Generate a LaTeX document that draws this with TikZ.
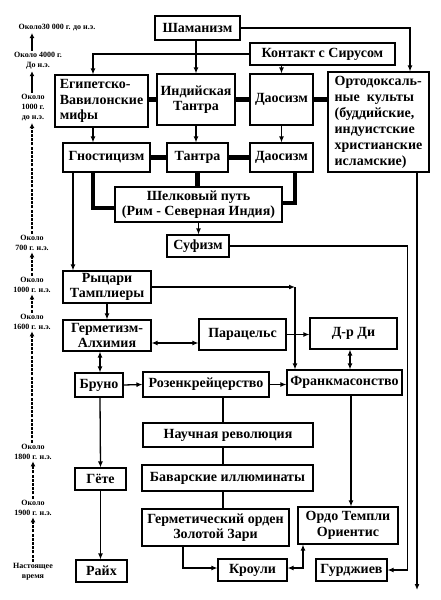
\documentclass[tikz,border=0pt]{standalone}
\usepackage{fontspec}
\setmainfont{Liberation Serif}
\usetikzlibrary{arrows.meta}

\begin{document}
\begin{tikzpicture}[x=1pt,y=-1pt,
  box/.style={draw,line width=1.1pt,fill=white,inner sep=1pt,align=center,
    font=\bfseries\fontsize{14}{15.5}\selectfont},
  era/.style={inner sep=0.5pt,align=center,font=\bfseries\fontsize{8}{10}\selectfont},
  link/.style={line width=1.3pt,-{Latex[length=6pt,width=5pt]}},
  both/.style={line width=1.3pt,{Latex[length=6pt,width=5pt]}-{Latex[length=6pt,width=5pt]}},
  tie/.style={line width=1.3pt},
  road/.style={line width=4.5pt},
  ago/.style={line width=1.5pt,shorten <=1pt,shorten >=1pt,-{Latex[length=5pt,width=5pt]}},
  gap/.style={dash pattern=on 3pt off 1.2pt}
]
\useasboundingbox (0,0) rectangle (441,600);

% Ancient roots
\node[box,minimum width=85pt,minimum height=24pt] (sham) at (197.5,28) {Шаманизм};
\node[box,minimum width=145pt,minimum height=22pt] (sirius) at (322.5,54) {Контакт с Сирусом};
\node[box,align=left,minimum width=93pt,minimum height=52pt] (egypt) at (101.5,101) {Египетско-\\Вавилонские\\мифы};
\node[box,minimum width=78pt,minimum height=51pt] (itantra) at (196,99.5) {Индийская\\Тантра};
\node[box,minimum width=63pt,minimum height=51pt] (taoA) at (281.5,99.5) {Даосизм};
\node[box,align=left,minimum width=101pt,minimum height=100pt,
  font=\bfseries\fontsize{14}{16}\selectfont] (ortho) at (378.5,122)
  {Ортодоксаль-\\ные\ \ культы\\(буддийские,\\индуистские\\христианские\\исламские)};

% Second row and the Silk Road
\node[box,minimum width=87pt,minimum height=29pt] (gnost) at (106.5,157.5) {Гностицизм};
\node[box,minimum width=61pt,minimum height=29pt] (tantra) at (197.5,157.5) {Тантра};
\node[box,minimum width=63pt,minimum height=29pt] (taoB) at (281.5,157.5) {Даосизм};
\node[box,minimum width=167pt,minimum height=35pt] (silk) at (198.5,204.5) {Шелковый путь\\(Рим - Северная Индия)};
\node[box,minimum width=62pt,minimum height=22pt] (sufi) at (198,246) {Суфизм};

% Medieval and Renaissance
\node[box,minimum width=88pt,minimum height=32pt] (templar) at (107,287) {Рыцари\\Тамплиеры};
\node[box,minimum width=88pt,minimum height=31pt] (herm) at (107,335.5) {Герметизм-\\Алхимия};
\node[box,minimum width=87pt,minimum height=31pt] (para) at (242.5,334.5) {Парацельс};
\node[box,minimum width=87pt,minimum height=31pt] (dee) at (353.5,333.5) {Д-р Ди};
\node[box,minimum width=48pt,minimum height=24pt] (bruno) at (99,385) {Бруно};
\node[box,minimum width=126pt,minimum height=25pt] (rosen) at (206,384.5) {Розенкрейцерство};
\node[box,minimum width=115pt,minimum height=25pt] (mason) at (344.5,382.5) {Франкмасонство};

% Modern times
\node[box,minimum width=170pt,minimum height=24pt] (sci) at (228,435) {Научная революция};
\node[box,minimum width=171pt,minimum height=26pt] (bavar) at (227.5,478) {Баварские иллюминаты};
\node[box,minimum width=147pt,minimum height=37pt] (golden) at (215.5,527.5) {Герметический орден\\Золотой Зари};
\node[box,minimum width=100pt,minimum height=37pt] (oto) at (348,525.5) {Ордо Темпли\\Ориентис};
\node[box,minimum width=69pt,minimum height=22pt] (crowley) at (252.5,570) {Кроули};
\node[box,minimum width=71pt,minimum height=22pt] (gurd) at (351.5,570) {Гурджиев};
\node[box,minimum width=51pt,minimum height=22pt] (goethe) at (100.5,479) {Гёте};
\node[box,minimum width=51pt,minimum height=22pt] (reich) at (101.5,571) {Райх};

% Top links
\draw[link] (sham.east) -| ([xshift=31.5pt]ortho.north);
\draw[link] (itantra.north |- sham.south) -- (itantra.north);
\draw[link] (sirius.west) -| ([xshift=-8.5pt]egypt.north);
\draw[link] (taoA.north |- sirius.south) -- (taoA.north);
\draw[road] (egypt.east |- itantra.west) -- (itantra.west);
\draw[road] (itantra.east) -- (taoA.west);
\draw[road] (taoA.east) -- (taoA.east -| ortho.west);
\draw[link] ([xshift=-8.5pt]egypt.south) -- ([xshift=-13.5pt]gnost.north);
\draw[link] (itantra.south) -- (itantra.south |- tantra.north);
\draw[link] (taoA.south) -- (taoB.north);

% Silk Road links
\draw[road] (gnost.east) -- (tantra.west);
\draw[road] (tantra.east) -- (taoB.west);
\draw[road] ([xshift=-13.5pt]gnost.south) |- ([yshift=-3.5pt]silk.west);
\draw[road] (tantra.south) -- (tantra.south |- silk.north);
\draw[road] ([xshift=13.5pt]taoB.south) |- ([yshift=1.5pt]silk.east);
\draw[link] (silk.south) -- (silk.south |- sufi.north);

% Long lines on the right
\coordinate (now) at (417,590);
\draw[link] (sufi.east) -| ([xshift=20pt]gurd.east) -- (gurd.east);
\draw[link] ([xshift=38.5pt]ortho.south) -- (now);

% Templars and after
\coordinate (tbend) at (295,287);
\draw[link] ([xshift=-33.5pt]gnost.south) -- ([xshift=-34pt]templar.north);
\draw[link] (templar.east) -- (tbend);
\draw[link] (tbend) -- (tbend |- mason.north);
\draw[link] (templar.south) -- (templar.south |- herm.north);
\draw[both] ([yshift=-7.5pt]herm.east) -- ([yshift=-8.5pt]para.west);
\draw[link] (para.east) -- (para.east -| dee.west);
\draw[both] ([xshift=-3.5pt]dee.south) -- ([xshift=5.5pt]mason.north);
\draw[both] ([xshift=-7pt]herm.south) -- ([xshift=1pt]bruno.north);
\draw[link] (bruno.east) -- (rosen.west);
\draw[link] (rosen.east) -- (rosen.east -| mason.west);
\draw[tie] ([xshift=17pt]rosen.south) -- ([xshift=-5pt]sci.north);
\draw[tie] ([xshift=-5pt]sci.south) -- ([xshift=-4.5pt]bavar.north);
\draw[tie] ([xshift=-4.5pt]bavar.south) -- ([xshift=7.5pt]golden.north);
\draw[link] ([xshift=6.5pt]mason.south) -- ([xshift=3pt]oto.north);
\draw[link] ([xshift=-32.5pt]golden.south) |- ([yshift=2pt]crowley.west);
\draw[both] ([yshift=2pt]crowley.east) -| ([xshift=-45pt]oto.south);
\draw[link] ([xshift=1pt]bruno.south) -- (goethe.north);
\draw[link] (goethe.south) -- ([xshift=-1pt]reich.north);

% Time scale
\node[era] (t0) at (57,28) {Около30 000 г. до н.э.};
\node[era] (t1) at (38,61) {Около 4000 г.\\До н.э.};
\node[era] (t2) at (33,108) {Около\\1000 г.\\до н.э.};
\node[era] (t3) at (32,243) {Около\\700 г. н.э.};
\node[era] (t4) at (32,285) {Около\\1000 г. н.э.};
\node[era] (t5) at (32,322) {Около\\1600 г. н.э.};
\node[era] (t6) at (33,452) {Около\\1800 г. н.э.};
\node[era] (t7) at (33,508) {Около\\1900 г. н.э.};
\node[era] (t8) at (33,572) {Настоящее\\время};
\draw[ago] ([xshift=-6pt]t1.north) -- ([xshift=-25pt]t0.south);
\draw[ago] ([xshift=-1pt]t2.north) -- ([xshift=-6pt]t1.south);
\draw[ago,gap] (t3.north) -- ([xshift=-1pt]t2.south);
\draw[ago,gap] (t4.north) -- (t3.south);
\draw[ago,gap] (t5.north) -- (t4.south);
\draw[ago,gap] ([xshift=-1pt]t6.north) -- (t5.south);
\draw[ago,gap] (t7.north) -- (t6.south);
\draw[ago,gap] (t8.north) -- (t7.south);

\end{tikzpicture}
\end{document}
